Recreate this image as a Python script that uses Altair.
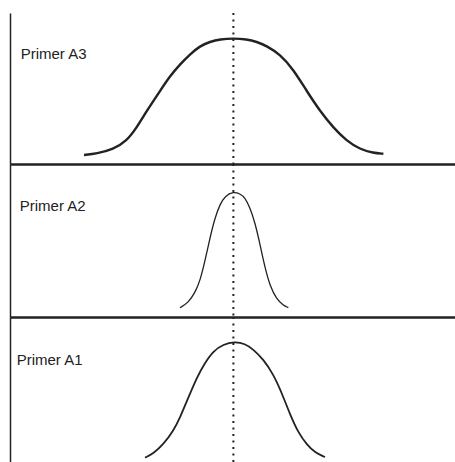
import altair as alt
import pandas as pd

# Migration position (arbitrary units, 0-100) and relative signal for each primer
a3_position = [16.63, 19.48, 23.22, 26.22, 28.46, 30.71, 33.71, 35.96, 38.20, 40.45, 42.70, 44.94, 47.19,
               50.19, 53.18, 55.43, 57.68, 60.67, 63.67, 66.67, 69.66, 72.66, 75.66, 78.65, 81.65, 83.90]
a3_signal = [0.072, 0.082, 0.117, 0.183, 0.289, 0.421, 0.580, 0.699, 0.792, 0.872, 0.938, 0.972, 0.991,
             0.999, 0.991, 0.972, 0.938, 0.872, 0.752, 0.580, 0.421, 0.289, 0.183, 0.117, 0.087, 0.082]

a2_position = [38.20, 40.07, 41.57, 42.70, 43.82, 44.94, 46.07, 47.19, 48.31, 50.19,
               51.69, 52.81, 53.93, 55.06, 56.18, 57.30, 58.43, 59.93, 61.42, 62.55]
a2_signal = [0.073, 0.112, 0.191, 0.282, 0.439, 0.622, 0.779, 0.884, 0.949, 0.983,
             0.967, 0.936, 0.857, 0.740, 0.570, 0.387, 0.243, 0.139, 0.092, 0.073]

a1_position = [30.34, 32.21, 34.46, 36.70, 38.20, 40.07, 41.95, 43.82, 45.69, 47.94, 50.41,
               52.81, 54.68, 56.93, 59.18, 61.05, 62.92, 64.79, 66.67, 68.54, 70.79]
a1_signal = [0.044, 0.077, 0.153, 0.263, 0.373, 0.537, 0.701, 0.825, 0.921, 0.975, 0.997,
             0.981, 0.934, 0.852, 0.729, 0.578, 0.400, 0.249, 0.153, 0.085, 0.049]

# Common peak position marked by the dotted reference line
peak_position = 50.2

primer_labels = ["Primer A3", "Primer A2", "Primer A1"]
label_position = [2.4, 2.2, 1.5]
label_signal = [0.834, 0.831, 0.803]

panel_heights = [151, 153, 146]
curve_widths = [2.4, 1.3, 1.8]

INK = "#222222"
FONT = "Liberation Sans"

x_scale = alt.Scale(domain=[0, 100], nice=False, zero=False)
y_scale = alt.Scale(domain=[0, 1.2], nice=False, zero=False)


def domain_axis(width):
    return alt.Axis(
        domain=True, domainColor=INK, domainWidth=width,
        ticks=False, labels=False, grid=False, title=None,
        minExtent=0, offset=0,
    )


def panel(positions, signals, label, lx, ly, height, stroke_width, show_bottom):
    curve_df = pd.DataFrame({"position": positions, "signal": signals})
    x_axis = domain_axis(2.5) if show_bottom else None

    # B-spline through the sampled readings keeps each peak smooth
    curve = alt.Chart(curve_df).mark_line(
        color=INK, strokeWidth=stroke_width, interpolate="basis"
    ).encode(
        x=alt.X("position:Q", scale=x_scale, axis=x_axis),
        y=alt.Y("signal:Q", scale=y_scale, axis=domain_axis(1.5)),
    )

    peak = alt.Chart(pd.DataFrame({"position": [peak_position]})).mark_rule(
        color=INK, strokeWidth=2, strokeDash=[2, 4.5]
    ).encode(x=alt.X("position:Q", scale=x_scale))

    text = alt.Chart(
        pd.DataFrame({"position": [lx], "signal": [ly], "label": [label]})
    ).mark_text(
        align="left", baseline="alphabetic", font=FONT, fontSize=15, color=INK
    ).encode(
        x=alt.X("position:Q", scale=x_scale),
        y=alt.Y("signal:Q", scale=y_scale),
        text="label:N",
    )

    return alt.layer(curve, peak, text).properties(width=445, height=height)


series = [
    (a3_position, a3_signal),
    (a2_position, a2_signal),
    (a1_position, a1_signal),
]

panels = []
for i, (pos, sig) in enumerate(series):
    panels.append(
        panel(pos, sig, primer_labels[i], label_position[i], label_signal[i],
              panel_heights[i], curve_widths[i], show_bottom=(i < 2))
    )

chart = alt.vconcat(*panels, spacing=0, bounds="flush").properties(
    padding={"left": 10, "top": 12, "right": 0, "bottom": 0},
    background="white",
).configure_view(stroke=None)

chart.save("out.html", embed_options={"renderer": "svg", "actions": False})
